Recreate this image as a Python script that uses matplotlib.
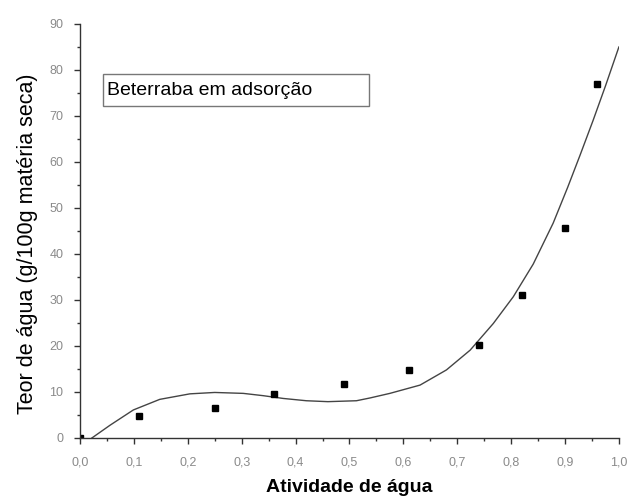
import matplotlib.pyplot as plt
from matplotlib.patches import Rectangle
from matplotlib.ticker import MultipleLocator, FuncFormatter

# experimental points
aw_points = [0.0, 0.11, 0.25, 0.36, 0.49, 0.61, 0.74, 0.82, 0.90, 0.96]
moisture_points = [0.0, 4.8, 6.5, 9.6, 11.7, 14.8, 20.2, 31.1, 45.6, 76.9]

# fitted curve
aw_curve = [0.022, 0.056, 0.099, 0.148, 0.204, 0.25, 0.303, 0.34, 0.377, 0.42,
            0.46, 0.513, 0.538, 0.575, 0.631, 0.680, 0.724, 0.767,
            0.804, 0.841, 0.878, 0.905, 0.928, 0.952, 0.975, 1.0]
moisture_curve = [0.0, 2.8, 6.1, 8.4, 9.6, 9.9, 9.7, 9.2, 8.6, 8.1,
                  7.9, 8.1, 8.7, 9.7, 11.5, 14.8, 19.1, 24.9,
                  30.7, 37.8, 46.7, 54.5, 61.5, 69.0, 76.5, 85.0]

fig = plt.figure(figsize=(6.31, 5.0), dpi=100)
ax = fig.add_axes([0.1268, 0.124, 0.854, 0.828])

ax.plot(aw_curve, moisture_curve, color="#444444", linewidth=1.0)
ax.plot(aw_points, moisture_points, linestyle="none", marker="s",
        markersize=5, color="black", clip_on=True)

ax.set_xlim(0, 1.0)
ax.set_ylim(0, 90)
ax.xaxis.set_major_locator(MultipleLocator(0.1))
ax.xaxis.set_minor_locator(MultipleLocator(0.05))
ax.yaxis.set_major_locator(MultipleLocator(10))
ax.yaxis.set_minor_locator(MultipleLocator(5))
ax.xaxis.set_major_formatter(FuncFormatter(lambda v, p: f"{v:.1f}".replace(".", ",")))
ax.yaxis.set_major_formatter(FuncFormatter(lambda v, p: f"{v:.0f}"))

for side in ["top", "right"]:
    ax.spines[side].set_visible(False)
for side in ["left", "bottom"]:
    ax.spines[side].set_color("#333333")
    ax.spines[side].set_linewidth(1.0)

ax.tick_params(which="major", direction="out", length=4, width=1.0,
               colors="#333333", labelcolor="#8a8a8a", labelsize=9)
ax.tick_params(which="minor", direction="out", length=2.5, width=1.0,
               colors="#333333")
for lbl in ax.get_xticklabels() + ax.get_yticklabels():
    lbl.set_family("Liberation Sans")
ax.tick_params(axis="x", pad=9)
ax.tick_params(axis="y", pad=8)

ax.set_xlabel("Atividade de água", fontsize=14, fontweight="bold",
              family="Liberation Sans")
ax.set_ylabel("Teor de água (g/100g matéria seca)", fontsize=15.5,
              family="Liberation Sans")
ax.xaxis.set_label_coords(0.5, -0.1)
ax.yaxis.set_label_coords(-0.078, 0.47)

# legend-like label box
ax.add_patch(Rectangle((0.043, 72.2), 0.493, 6.9, facecolor="white",
                       edgecolor="#777777", linewidth=1.0, zorder=3))
ax.text(0.05, 75.6, "Beterraba em adsorção", fontsize=14,
        family="Liberation Sans", va="center", ha="left", zorder=4)

fig.savefig("out.png", dpi=100)
